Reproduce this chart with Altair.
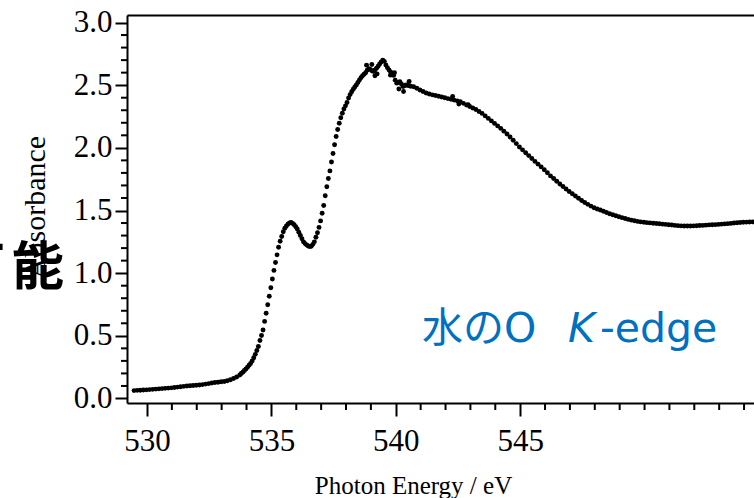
import altair as alt
import numpy as np
import pandas as pd

# ---- measured absorbance, three energy segments (eV) ----
pre_start, pre_step = 529.48, 0.125
pre_abs = [
    0.063, 0.065, 0.066, 0.068,
    0.069, 0.071, 0.073, 0.075, 0.077, 0.079, 0.081, 0.083, 0.085, 0.088,
    0.091, 0.094, 0.097, 0.100, 0.102, 0.104, 0.106, 0.108, 0.111, 0.115,
    0.119, 0.124, 0.127, 0.130, 0.133, 0.136, 0.141, 0.149, 0.159, 0.172,
    0.187,
]

edge_start, edge_step = 533.79, 0.0625
edge_abs = [
    0.199, 0.210, 0.223, 0.235, 0.249, 0.265, 0.280, 0.300, 0.325, 0.352,
    0.383, 0.415, 0.463, 0.503, 0.547, 0.615, 0.680, 0.748, 0.816,
    0.884, 0.953, 1.022, 1.085, 1.146, 1.207, 1.255, 1.293, 1.331, 1.358,
    1.376, 1.390, 1.401, 1.404, 1.397, 1.386, 1.370, 1.352, 1.326, 1.301,
    1.275, 1.250, 1.236, 1.226, 1.217, 1.212, 1.215, 1.230, 1.250, 1.287,
    1.322, 1.365, 1.417, 1.478, 1.540, 1.618, 1.690, 1.755, 1.816, 1.887,
    1.955, 2.025, 2.090, 2.146, 2.196, 2.240, 2.276, 2.310, 2.335, 2.362,
    2.398, 2.425, 2.447, 2.467, 2.485, 2.502, 2.521, 2.542, 2.560, 2.575,
    2.587, 2.600, 2.620, 2.632, 2.625, 2.615, 2.610, 2.622, 2.635, 2.652,
    2.670, 2.685, 2.700, 2.690, 2.662, 2.640, 2.622, 2.605, 2.595, 2.578,
    2.540, 2.516, 2.522, 2.528, 2.510, 2.490, 2.495, 2.502, 2.500, 2.495,
    2.492,
]

post_start, post_step = 540.72, 0.125
post_abs = [
    2.488, 2.475, 2.462, 2.450, 2.438, 2.430, 2.423, 2.418, 2.412, 2.406,
    2.400, 2.393, 2.387, 2.381, 2.375, 2.368, 2.355, 2.342, 2.330, 2.318,
    2.306, 2.290, 2.275, 2.255, 2.235, 2.215, 2.195, 2.175, 2.155, 2.133,
    2.110, 2.087, 2.061, 2.034, 2.007, 1.984, 1.961, 1.938, 1.915, 1.892,
    1.870, 1.848, 1.825, 1.801, 1.776, 1.755, 1.733, 1.712, 1.692, 1.672,
    1.652, 1.634, 1.616, 1.598, 1.580, 1.564, 1.549, 1.535, 1.522, 1.512,
    1.504, 1.494, 1.484, 1.474, 1.466, 1.458, 1.450, 1.443, 1.436, 1.429,
    1.423, 1.418, 1.413, 1.409, 1.406, 1.403, 1.401, 1.398, 1.396, 1.394,
    1.391, 1.389, 1.386, 1.384, 1.381, 1.379, 1.377, 1.376, 1.376, 1.376,
    1.377, 1.378, 1.380, 1.381, 1.383, 1.385, 1.386, 1.387, 1.389, 1.391,
    1.393, 1.395, 1.397, 1.400, 1.402, 1.404, 1.406, 1.407, 1.408, 1.409,
    1.409,
]

# repeated scans that fall off the main trace near the edge maximum
extra_energy = [538.825, 539.037, 539.162, 539.25, 539.787, 539.949, 540.124,
                540.312, 540.537, 542.286, 542.535, 542.91]
extra_abs = [2.660, 2.665, 2.575, 2.590, 2.580, 2.600, 2.470,
             2.450, 2.530, 2.410, 2.350, 2.345]

x_major = [530, 535, 540, 545]
x_minor = [e for e in range(530, 555) if e % 5 or e == 550]
y_major = [0.0, 0.5, 1.0, 1.5, 2.0, 2.5, 3.0]
y_minor = [round(0.1 * i, 1) for i in range(31) if i % 5]


def segment(start, step, values):
    energy = np.round(start + step * np.arange(len(values)), 4)
    return pd.DataFrame({"energy": energy, "absorbance": values})


spectrum = pd.concat(
    [
        segment(pre_start, pre_step, pre_abs),
        segment(edge_start, edge_step, edge_abs),
        segment(post_start, post_step, post_abs),
        pd.DataFrame({"energy": extra_energy, "absorbance": extra_abs}),
    ],
    ignore_index=True,
)

W, H = 627, 388
SERIF = "Liberation Serif"
xs = alt.Scale(domain=[529.196, 554.40], nice=False, zero=False)
ys = alt.Scale(domain=[-0.036, 3.06], nice=False, zero=False)

axis_common = dict(
    grid=False,
    domainColor="black",
    domainWidth=2,
    tickColor="black",
    tickWidth=2,
    labelFont=SERIF,
    labelFontSize=31,
    labelColor="black",
    titleFont=SERIF,
    titleFontWeight="normal",
    titleColor="black",
)

points = alt.Chart(spectrum).mark_circle(size=24, color="black", opacity=1).encode(
    x=alt.X(
        "energy:Q",
        scale=xs,
        axis=alt.Axis(
            orient="bottom",
            values=x_major,
            format="d",
            tickSize=13,
            labelPadding=10,
            title="Photon Energy / eV",
            titleFontSize=25,
            titleX=286,
            titleY=90,
            titleAlign="center",
            titleBaseline="alphabetic",
            **axis_common,
        ),
    ),
    y=alt.Y(
        "absorbance:Q",
        scale=ys,
        axis=alt.Axis(
            orient="left",
            values=y_major,
            format=".1f",
            tickSize=12,
            labelPadding=3,
            title="Absorbance",
            titleFontSize=30,
            titleAngle=270,
            titleX=-83,
            titleY=192,
            titleAlign="center",
            titleBaseline="alphabetic",
            **axis_common,
        ),
    ),
)

# upper frame line of the plot
top_frame = alt.Chart(pd.DataFrame({"energy": x_major})).mark_tick(opacity=0).encode(
    x=alt.X(
        "energy:Q",
        scale=xs,
        axis=alt.Axis(
            orient="top",
            labels=False,
            ticks=False,
            title=None,
            grid=False,
            domainColor="black",
            domainWidth=2,
        ),
    )
)

x_minor_ticks = alt.Chart(pd.DataFrame({"energy": x_minor})).mark_rule(
    color="black", strokeWidth=2
).encode(
    x=alt.X("energy:Q", scale=xs, axis=None),
    y=alt.value(H),
    y2=alt.value(H + 7),
)

y_minor_ticks = alt.Chart(pd.DataFrame({"absorbance": y_minor})).mark_rule(
    color="black", strokeWidth=2
).encode(
    y=alt.Y("absorbance:Q", scale=ys, axis=None),
    x=alt.value(-6),
    x2=alt.value(0),
)

# large caption word at the left edge, partly outside the page
word_font = dict(font="Noto Sans CJK JP", fontWeight="bold", fontSize=52,
                 baseline="middle", color="black")
word_a = alt.Chart(pd.DataFrame({"t": ["可"]})).mark_text(
    align="right", **word_font
).encode(x=alt.value(-122), y=alt.value(254), text="t:N")
word_b = alt.Chart(pd.DataFrame({"t": ["能"]})).mark_text(
    align="left", **word_font
).encode(x=alt.value(-115), y=alt.value(254), text="t:N")

BLUE = "#0070C0"
label_font = "DejaVu Sans, Noto Sans CJK JP"
label_a = alt.Chart(pd.DataFrame({"t": ["水のO"]})).mark_text(
    font=label_font, fontSize=41, color=BLUE, align="left", baseline="alphabetic"
).encode(x=alt.value(295), y=alt.value(327), text="t:N")
label_k = alt.Chart(pd.DataFrame({"t": ["K"]})).mark_text(
    font=label_font, fontSize=41, fontStyle="italic", color=BLUE,
    align="left", baseline="alphabetic"
).encode(x=alt.value(441), y=alt.value(327), text="t:N")
label_b = alt.Chart(pd.DataFrame({"t": ["-edge"]})).mark_text(
    font=label_font, fontSize=41, color=BLUE, align="left", baseline="alphabetic"
).encode(x=alt.value(473), y=alt.value(327), text="t:N")

chart = (
    alt.layer(points, top_frame, x_minor_ticks, y_minor_ticks,
              word_a, word_b, label_a, label_k, label_b)
    .resolve_axis(x="independent", y="independent")
    .properties(
        width=W,
        height=H,
        autosize=alt.AutoSizeParams(type="none"),
        padding={"left": 127, "top": 15, "right": 0, "bottom": 95},
        background="white",
    )
    .configure_view(stroke=None)
)

chart.save("out.html", embed_options={"renderer": "svg", "actions": False})
